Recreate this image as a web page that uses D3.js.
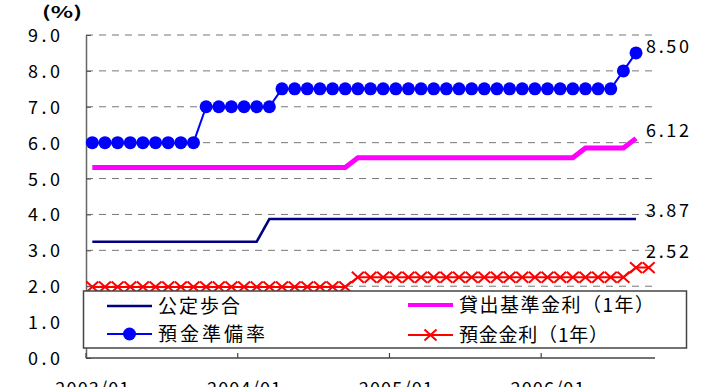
<!DOCTYPE html>
<html>
<head>
<meta charset="utf-8">
<script src="https://cdn.jsdelivr.net/npm/d3@7"></script>
<style>
  body { margin: 0; background: #fff; }
  text { font-family: "Noto Sans CJK JP", "Noto Sans", sans-serif; fill: #000; }
</style>
</head>
<body>
<div id="chart"></div>
<script>
// categories: monthly, 2003/01 .. 2006/09
const months = [
  "2003/01","2003/02","2003/03","2003/04","2003/05","2003/06","2003/07","2003/08","2003/09","2003/10","2003/11","2003/12",
  "2004/01","2004/02","2004/03","2004/04","2004/05","2004/06","2004/07","2004/08","2004/09","2004/10","2004/11","2004/12",
  "2005/01","2005/02","2005/03","2005/04","2005/05","2005/06","2005/07","2005/08","2005/09","2005/10","2005/11","2005/12",
  "2006/01","2006/02","2006/03","2006/04","2006/05","2006/06","2006/07","2006/08","2006/09"
];

// 公定歩合
const discountRate = [
  3.24,3.24,3.24,3.24,3.24,3.24,3.24,3.24,3.24,3.24,3.24,3.24,
  3.24,3.24,3.87,3.87,3.87,3.87,3.87,3.87,3.87,3.87,3.87,3.87,
  3.87,3.87,3.87,3.87,3.87,3.87,3.87,3.87,3.87,3.87,3.87,3.87,
  3.87,3.87,3.87,3.87,3.87,3.87,3.87,3.87,null
];

// 貸出基準金利（1年）
const lendingRate = [
  5.31,5.31,5.31,5.31,5.31,5.31,5.31,5.31,5.31,5.31,5.31,5.31,
  5.31,5.31,5.31,5.31,5.31,5.31,5.31,5.31,5.31,5.58,5.58,5.58,
  5.58,5.58,5.58,5.58,5.58,5.58,5.58,5.58,5.58,5.58,5.58,5.58,
  5.58,5.58,5.58,5.85,5.85,5.85,5.85,6.12,null
];

// 預金準備率
const reserveRatio = [
  6.0,6.0,6.0,6.0,6.0,6.0,6.0,6.0,6.0,7.0,7.0,7.0,
  7.0,7.0,7.0,7.5,7.5,7.5,7.5,7.5,7.5,7.5,7.5,7.5,
  7.5,7.5,7.5,7.5,7.5,7.5,7.5,7.5,7.5,7.5,7.5,7.5,
  7.5,7.5,7.5,7.5,7.5,7.5,8.0,8.5,null
];

// 預金金利（1年）
const depositRate = [
  1.98,1.98,1.98,1.98,1.98,1.98,1.98,1.98,1.98,1.98,1.98,1.98,
  1.98,1.98,1.98,1.98,1.98,1.98,1.98,1.98,1.98,2.25,2.25,2.25,
  2.25,2.25,2.25,2.25,2.25,2.25,2.25,2.25,2.25,2.25,2.25,2.25,
  2.25,2.25,2.25,2.25,2.25,2.25,2.25,2.52,2.52
];

const yTicks = [0, 1, 2, 3, 4, 5, 6, 7, 8, 9];

// series styles (drawing order: bottom to top)
const series = [
  { name: "公定歩合", values: discountRate, color: "#000080", width: 2.5, marker: null, labelDy: -9 },
  { name: "貸出基準金利（1年）", values: lendingRate, color: "#FF00FF", width: 5, marker: null, labelDy: -8 },
  { name: "預金準備率", values: reserveRatio, color: "#0000FF", width: 2, marker: "dot", labelDy: -6 },
  { name: "預金金利（1年）", values: depositRate, color: "#FF0000", width: 2, marker: "x", labelDy: -16 }
];

const width = 704, height = 387;
const plot = { left: 86, right: 655, top: 35, bottom: 358 };

const svg = d3.select("#chart")
  .append("svg")
  .attr("width", width)
  .attr("height", height)
  .style("display", "block");

svg.append("rect").attr("width", width).attr("height", height).attr("fill", "#fff");

const x = d3.scaleBand().domain(months).range([plot.left, plot.right]).paddingInner(0).paddingOuter(0);
const cx = m => x(m) + x.bandwidth() / 2;
const y = d3.scaleLinear().domain([0, 9]).range([plot.bottom, plot.top]);

// gridlines
svg.append("g")
  .selectAll("line")
  .data(yTicks.filter(d => d > 0))
  .join("line")
  .attr("x1", plot.left)
  .attr("x2", plot.right)
  .attr("y1", d => y(d))
  .attr("y2", d => y(d))
  .attr("stroke", "#777")
  .attr("stroke-width", 1)
  .attr("stroke-dasharray", "7,6");

// y axis
const yAxis = svg.append("g")
  .attr("transform", "translate(" + plot.left + ",0)")
  .call(d3.axisLeft(y)
    .tickValues(yTicks)
    .tickSize(-5)
    .tickSizeOuter(0)
    .tickPadding(26)
    .tickFormat(d3.format(".1f")));
yAxis.select(".domain").attr("stroke", "#666").attr("stroke-width", 1.5);
yAxis.selectAll(".tick line").attr("stroke", "#555");
yAxis.selectAll(".tick text")
  .attr("font-size", 18)
  .attr("font-family", "Noto Sans CJK JP")
  .attr("textLength", 32)
  .attr("lengthAdjust", "spacing")
  .attr("dy", "0.36em");

// x axis
svg.append("line")
  .attr("x1", plot.left).attr("x2", plot.right)
  .attr("y1", y(0)).attr("y2", y(0))
  .attr("stroke", "#444").attr("stroke-width", 1.5);

const janMonths = months.filter(m => m.endsWith("/01"));
svg.append("g")
  .selectAll("line")
  .data(janMonths)
  .join("line")
  .attr("x1", d => x(d)).attr("x2", d => x(d))
  .attr("y1", y(0)).attr("y2", y(0) - 5)
  .attr("stroke", "#444").attr("stroke-width", 1.2);

svg.append("g")
  .selectAll("text")
  .data(janMonths)
  .join("text")
  .attr("x", d => cx(d))
  .attr("y", 395)
  .attr("text-anchor", "middle")
  .attr("font-size", 18)
  .attr("textLength", 74)
  .attr("lengthAdjust", "spacing")
  .text(d => d);

// unit
svg.append("text")
  .attr("x", 42)
  .attr("y", 18)
  .attr("font-size", 16)
  .attr("font-weight", "bold")
  .attr("textLength", 40)
  .attr("lengthAdjust", "spacingAndGlyphs")
  .text("(%)");

// lines
const line = d3.line()
  .defined(d => d != null)
  .x((d, i) => cx(months[i]))
  .y(d => y(d));

const xMark = (px, py, s) =>
  "M" + (px - s) + "," + (py - s * 0.9) + "L" + (px + s) + "," + (py + s * 0.9) +
  "M" + (px - s) + "," + (py + s * 0.9) + "L" + (px + s) + "," + (py - s * 0.9);

series.forEach(s => {
  svg.append("path")
    .datum(s.values)
    .attr("fill", "none")
    .attr("stroke", s.color)
    .attr("stroke-width", s.width)
    .attr("d", line);

  const pts = s.values.map((v, i) => ({ v: v, m: months[i] })).filter(p => p.v != null);

  if (s.marker === "dot") {
    svg.append("g")
      .selectAll("circle")
      .data(pts)
      .join("circle")
      .attr("cx", p => cx(p.m))
      .attr("cy", p => y(p.v))
      .attr("r", 6.5)
      .attr("fill", s.color);
  }
  if (s.marker === "x") {
    svg.append("g")
      .selectAll("path")
      .data(pts)
      .join("path")
      .attr("d", p => xMark(cx(p.m), y(p.v), 6))
      .attr("stroke", s.color)
      .attr("stroke-width", 2)
      .attr("fill", "none");
  }
});

// value labels at 2006/08
const labelMonth = "2006/08";
const li = months.indexOf(labelMonth);
svg.append("g")
  .selectAll("text")
  .data(series)
  .join("text")
  .attr("x", cx(labelMonth) + 10)
  .attr("y", s => y(s.values[li]) + s.labelDy)
  .attr("dy", "0.36em")
  .attr("font-size", 18)
  .attr("textLength", 43)
  .attr("lengthAdjust", "spacing")
  .text(s => d3.format(".2f")(s.values[li]));

// legend
const legend = svg.append("g");
legend.append("rect")
  .attr("x", 83.5)
  .attr("y", 291)
  .attr("width", 603)
  .attr("height", 57)
  .attr("fill", "#fff")
  .attr("stroke", "#444")
  .attr("stroke-width", 1.5);

const legendItems = [
  { s: series[0], x: 107, y: 306, len: 82 },
  { s: series[2], x: 107, y: 334, len: 107 },
  { s: series[1], x: 408, y: 305, len: 195 },
  { s: series[3], x: 408, y: 335, len: 149 }
];

legendItems.forEach(it => {
  legend.append("line")
    .attr("x1", it.x).attr("x2", it.x + 45)
    .attr("y1", it.y).attr("y2", it.y)
    .attr("stroke", it.s.color)
    .attr("stroke-width", Math.min(it.s.width, 4));
  if (it.s.marker === "dot") {
    legend.append("circle")
      .attr("cx", it.x + 22.5).attr("cy", it.y).attr("r", 6.5)
      .attr("fill", it.s.color);
  }
  if (it.s.marker === "x") {
    legend.append("path")
      .attr("d", xMark(it.x + 22.5, it.y, 6))
      .attr("stroke", it.s.color).attr("stroke-width", 2).attr("fill", "none");
  }
  legend.append("text")
    .attr("x", it.x + 51)
    .attr("y", it.y + 7)
    .attr("font-size", 19)
    .attr("textLength", it.len)
    .attr("lengthAdjust", "spacing")
    .text(it.s.name);
});
</script>
</body>
</html>
